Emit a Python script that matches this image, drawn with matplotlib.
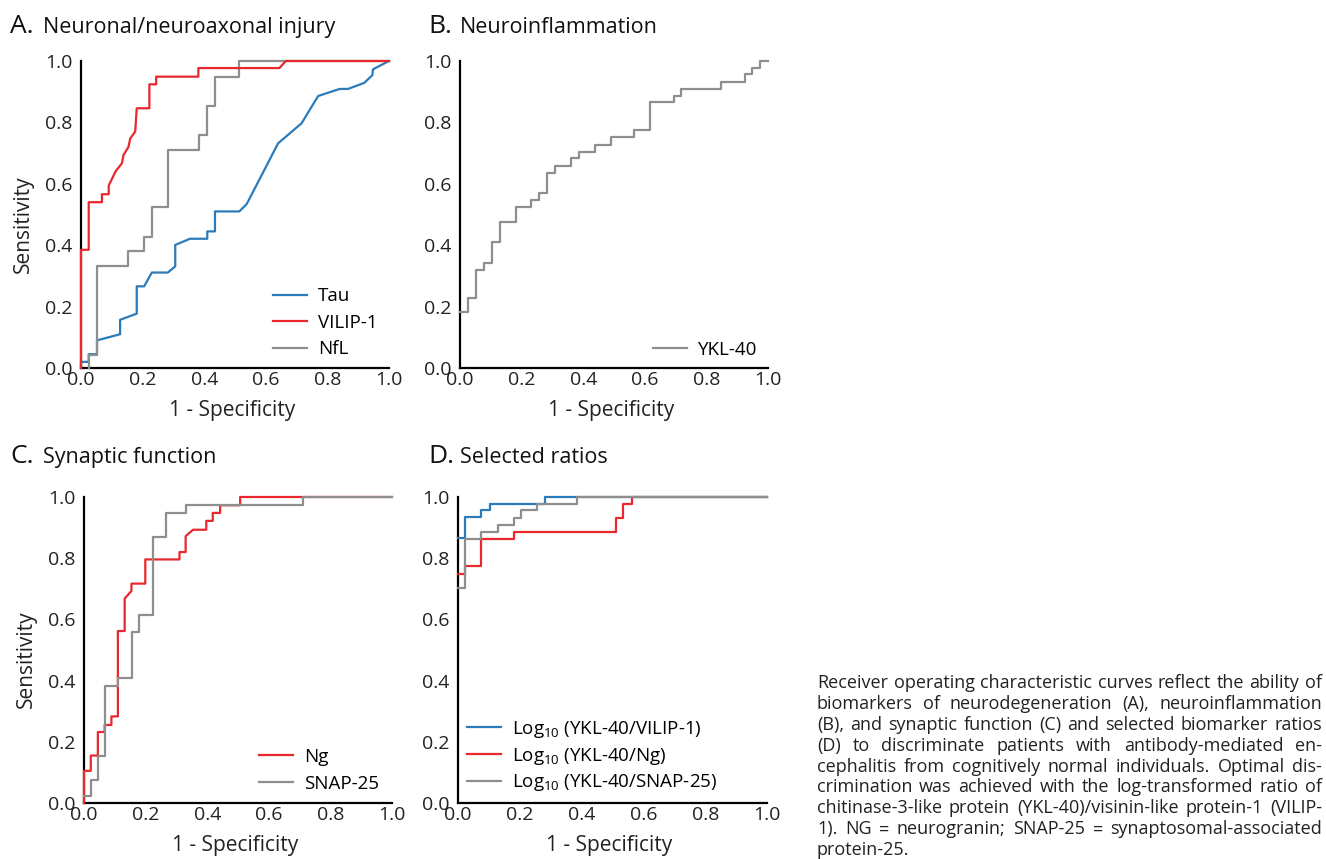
import matplotlib
matplotlib.use("Agg")
import matplotlib.pyplot as plt

plt.rcParams['font.family'] = ['Open Sans', 'DejaVu Sans']
plt.rcParams['mathtext.fontset'] = 'custom'
plt.rcParams['mathtext.rm'] = 'Open Sans'
plt.rcParams['mathtext.it'] = 'Open Sans:italic'

BLUE = '#2b7bba'
RED = '#e8282d'
GRAY = '#8e8e8e'

# panel A: neuronal / neuroaxonal injury (vertices)
tau_x = [0, 0, 0.025, 0.025, 0.052, 0.052, 0.127, 0.127, 0.181, 0.181, 0.205, 0.23, 0.282, 0.306, 0.306,
         0.354, 0.41, 0.41, 0.435, 0.435, 0.514, 0.538, 0.64, 0.716, 0.77, 0.84, 0.867, 0.92, 0.946, 0.948, 1.0]
tau_y = [0, 0.02, 0.02, 0.045, 0.045, 0.09, 0.11, 0.157, 0.177, 0.266, 0.266, 0.311, 0.311, 0.331, 0.401,
         0.421, 0.421, 0.445, 0.445, 0.51, 0.51, 0.534, 0.732, 0.797, 0.886, 0.909, 0.909, 0.929, 0.954, 0.973, 1.0]
vilip_x = [0, 0, 0.025, 0.025, 0.068, 0.068, 0.09, 0.09, 0.112, 0.133, 0.138, 0.154, 0.16, 0.176, 0.181,
           0.222, 0.222, 0.244, 0.244, 0.381, 0.381, 0.644, 0.665, 1.0]
vilip_y = [0, 0.385, 0.385, 0.54, 0.54, 0.566, 0.566, 0.594, 0.64, 0.667, 0.694, 0.72, 0.748, 0.77, 0.846,
           0.846, 0.924, 0.924, 0.949, 0.949, 0.977, 0.977, 1.0, 1.0]
nfl_x = [0.025, 0.025, 0.052, 0.052, 0.154, 0.154, 0.205, 0.205, 0.23, 0.23, 0.282, 0.282, 0.384, 0.384,
         0.41, 0.41, 0.435, 0.435, 0.514, 0.514, 1.0]
nfl_y = [0, 0.043, 0.043, 0.333, 0.333, 0.38, 0.38, 0.426, 0.426, 0.523, 0.523, 0.71, 0.71, 0.759,
         0.759, 0.854, 0.854, 0.949, 0.949, 1.0, 1.0]

# panel B: neuroinflammation (step, post)
ykl_x = [0, 0.027, 0.052, 0.078, 0.105, 0.13, 0.182, 0.232, 0.257, 0.284, 0.308, 0.362, 0.387, 0.438,
         0.489, 0.565, 0.616, 0.694, 0.719, 0.849, 0.924, 0.948, 0.975, 1.0]
ykl_y = [0.181, 0.228, 0.32, 0.341, 0.412, 0.477, 0.523, 0.547, 0.569, 0.636, 0.659, 0.683, 0.704, 0.728,
         0.751, 0.775, 0.865, 0.886, 0.91, 0.933, 0.957, 0.978, 1.0, 1.0]

# panel C: synaptic function
ng_x = [0, 0, 0.022, 0.022, 0.045, 0.045, 0.067, 0.067, 0.089, 0.089, 0.11, 0.11, 0.132, 0.132, 0.154, 0.154,
        0.199, 0.199, 0.31, 0.31, 0.33, 0.33, 0.354, 0.397, 0.397, 0.418, 0.418, 0.442, 0.442, 0.507, 0.507, 1.0]
ng_y = [0, 0.105, 0.105, 0.155, 0.155, 0.232, 0.232, 0.255, 0.255, 0.283, 0.283, 0.562, 0.562, 0.668, 0.693, 0.717,
        0.717, 0.796, 0.796, 0.82, 0.82, 0.872, 0.893, 0.893, 0.922, 0.922, 0.948, 0.948, 0.973, 0.973, 1.0, 1.0]
snap_x = [0, 0.022, 0.045, 0.067, 0.11, 0.157, 0.178, 0.224, 0.265, 0.332, 0.712, 1.0]
snap_y = [0.024, 0.076, 0.152, 0.383, 0.41, 0.56, 0.614, 0.87, 0.948, 0.973, 1.0, 1.0]

# panel D: selected ratios (step, post)
r_vilip_x = [0, 0.024, 0.076, 0.103, 0.281, 1.0]
r_vilip_y = [0.867, 0.935, 0.957, 0.978, 1.0, 1.0]
r_ng_x = [0, 0.024, 0.076, 0.18, 0.511, 0.535, 0.562, 1.0]
r_ng_y = [0.75, 0.773, 0.864, 0.887, 0.933, 0.978, 1.0, 1.0]
r_snap_x = [0, 0.024, 0.076, 0.128, 0.18, 0.205, 0.256, 0.384, 1.0]
r_snap_y = [0.703, 0.864, 0.887, 0.91, 0.933, 0.957, 0.978, 1.0, 1.0]

ticks = [0.0, 0.2, 0.4, 0.6, 0.8, 1.0]
tick_labels = ['0.0', '0.2', '0.4', '0.6', '0.8', '1.0']

caption_lines = [
    "Receiver operating characteristic curves reflect the ability of",
    "biomarkers of neurodegeneration (A), neuroinflammation",
    "(B), and synaptic function (C) and selected biomarker ratios",
    "(D) to discriminate patients with antibody-mediated en-",
    "cephalitis from cognitively normal individuals. Optimal dis-",
    "crimination was achieved with the log-transformed ratio of",
    "chitinase-3-like protein (YKL-40)/visinin-like protein-1 (VILIP-",
    "1). NG = neurogranin; SNAP-25 = synaptosomal-associated",
    "protein-25.",
]

W, H = 1326, 859
fig = plt.figure(figsize=(W / 100, H / 100), dpi=100)


def px_axes(x0, x1, y_top, y_bot):
    return fig.add_axes([x0 / W, 1 - y_bot / H, (x1 - x0) / W, (y_bot - y_top) / H])


def style(ax, ylabel=True):
    ax.set_xlim(0, 1)
    ax.set_ylim(0, 1)
    for s in ['top', 'right']:
        ax.spines[s].set_visible(False)
    for s in ['left', 'bottom']:
        ax.spines[s].set_linewidth(1.6)
        ax.spines[s].set_color('black')
        ax.spines[s].set_zorder(2.5)
    ax.set_xticks(ticks)
    ax.set_xticklabels(tick_labels)
    ax.set_yticks(ticks)
    ax.set_yticklabels(tick_labels)
    ax.tick_params(axis='both', length=0, labelsize=14, colors='#222222')
    ax.tick_params(axis='y', pad=6)
    ax.tick_params(axis='x', pad=2)
    ax.set_xlabel('1 - Specificity', fontsize=15, color='#222222')
    ax.xaxis.set_label_coords(0.49, -0.105)
    if ylabel:
        ax.set_ylabel('Sensitivity', fontsize=15, color='#222222')
        ax.yaxis.set_label_coords(-0.152, 0.47)


def legend(ax, anchor, spacing):
    ax.legend(loc='center left', bbox_to_anchor=anchor, frameon=False, fontsize=13.5,
              handlelength=1.8, handletextpad=0.6, labelspacing=spacing, borderpad=0, borderaxespad=0)


lw = 1.6

axA = px_axes(81, 389, 61, 368)
axA.plot(tau_x, tau_y, color=BLUE, lw=lw, label='Tau', zorder=3, clip_on=False)
axA.plot(vilip_x, vilip_y, color=RED, lw=lw, label='VILIP-1', zorder=3.5, clip_on=False)
axA.plot(nfl_x, nfl_y, color=GRAY, lw=lw, label='NfL', zorder=3.2, clip_on=False)
style(axA)
legend(axA, (0.623, 0.147), 0.46)

axB = px_axes(460, 768, 61, 368)
axB.plot(ykl_x, ykl_y, color=GRAY, lw=lw, drawstyle='steps-post', label='YKL-40', zorder=3, clip_on=False)
style(axB, ylabel=False)
legend(axB, (0.627, 0.059), 0.46)

axC = px_axes(84, 392, 497, 803)
axC.plot(ng_x, ng_y, color=RED, lw=lw, label='Ng', zorder=3, clip_on=False)
axC.plot(snap_x, snap_y, color=GRAY, lw=lw, drawstyle='steps-post', label='SNAP-25', zorder=3.2, clip_on=False)
style(axC)
legend(axC, (0.568, 0.107), 0.46)

axD = px_axes(458, 767, 497, 803)
axD.plot(r_vilip_x, r_vilip_y, color=BLUE, lw=lw, drawstyle='steps-post',
         label=r'Log$_{\mathrm{10}}$ (YKL-40/VILIP-1)', zorder=3, clip_on=False)
axD.plot(r_ng_x, r_ng_y, color=RED, lw=lw, drawstyle='steps-post',
         label=r'Log$_{\mathrm{10}}$ (YKL-40/Ng)', zorder=3.1, clip_on=False)
axD.plot(r_snap_x, r_snap_y, color=GRAY, lw=lw, drawstyle='steps-post',
         label=r'Log$_{\mathrm{10}}$ (YKL-40/SNAP-25)', zorder=3.2, clip_on=False)
style(axD, ylabel=False)
legend(axD, (0.029, 0.153), 0.3)

# panel titles
titles = [('A.', 'Neuronal/neuroaxonal injury', 10, 43, 33),
          ('B.', 'Neuroinflammation', 428, 460, 33),
          ('C.', 'Synaptic function', 10, 43, 463),
          ('D.', 'Selected ratios', 428, 460, 463)]
for letter, text, xl, xt, yb in titles:
    fig.text(xl / W, 1 - yb / H, letter, fontsize=19, ha='left', va='baseline', color='#111111')
    fig.text(xt / W, 1 - yb / H, text, fontsize=15.5, ha='left', va='baseline', color='#111111')

# justified caption
renderer = fig.canvas.get_renderer()
cap_left, cap_right = 817, 1322
cap_base, cap_step = 688, 20.9


def word_width(s, fs):
    t = fig.text(0, 0, s, fontsize=fs)
    w = t.get_window_extent(renderer).width
    t.remove()
    return w


# pick the size at which the fullest line just fits the column
probe = 10.0
widest = max(word_width(l, probe) for l in caption_lines[:-1])
cap_fs = probe * (cap_right - cap_left - 4) / widest

for i, line in enumerate(caption_lines):
    yb = 1 - (cap_base + i * cap_step) / H
    words = line.split(' ')
    if i == len(caption_lines) - 1 or len(words) == 1:
        fig.text(cap_left / W, yb, line, fontsize=cap_fs, ha='left', va='baseline', color='#222222')
        continue
    widths = [word_width(w, cap_fs) for w in words]
    gap = (cap_right - cap_left - sum(widths)) / (len(words) - 1)
    x = cap_left
    for w, ww in zip(words, widths):
        fig.text(x / W, yb, w, fontsize=cap_fs, ha='left', va='baseline', color='#222222')
        x += ww + gap

fig.savefig('out.png', dpi=100)
